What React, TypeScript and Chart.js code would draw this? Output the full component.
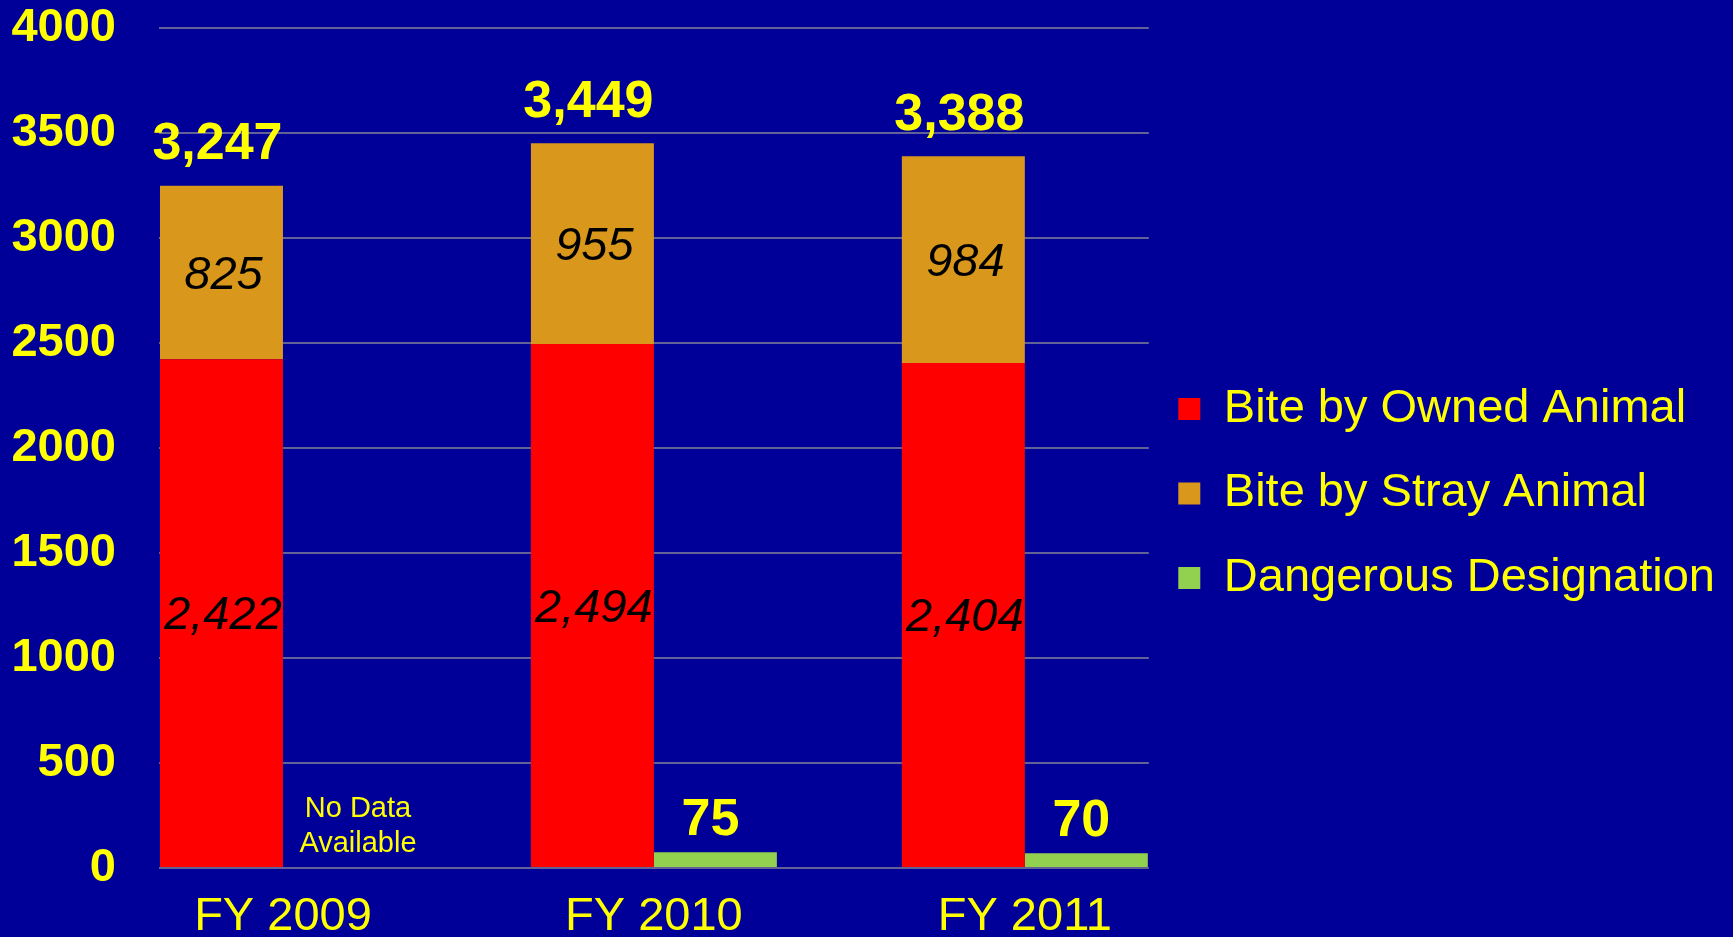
import React, { useEffect, useRef } from 'react';
import { Chart, registerables } from 'chart.js';

Chart.register(...registerables);

const categories = ['FY 2009', 'FY 2010', 'FY 2011'];
const ownedBites = [2422, 2494, 2404];
const strayBites = [825, 955, 984];
const dangerousDesignations: (number | null)[] = [null, 75, 70];
const seriesNames = ['Bite by Owned Animal', 'Bite by Stray Animal', 'Dangerous Designation'];
const noDataLines = ['No Data', 'Available'];
const yAxisMin = 0;
const yAxisMax = 4000;
const yAxisStep = 500;

const FONT = '"Liberation Sans", Arial, Helvetica, sans-serif';
const YELLOW = '#FFFF00';
const BG = '#000099';

const fmt = (v: number) => v.toLocaleString('en-US');

const valueLabels = {
  id: 'valueLabels',
  afterLayout(chart: any) {
    // nudge legend content slightly left (legend sits right of the plot)
    if (chart.legend) {
      chart.legend.left -= 8;
      chart.legend.right -= 8;
    }
  },
  afterDatasetsDraw(chart: any) {
    const ctx = chart.ctx;
    const m0 = chart.getDatasetMeta(0);
    const m1 = chart.getDatasetMeta(1);
    const m2 = chart.getDatasetMeta(2);
    ctx.save();
    ctx.textAlign = 'center';
    ctx.textBaseline = 'middle';
    categories.forEach((_, i) => {
      const a = m0.data[i];
      const b = m1.data[i];
      // inside labels
      ctx.font = `italic 47px ${FONT}`;
      ctx.fillStyle = '#000000';
      ctx.fillText(fmt(ownedBites[i]), a.x + 1.5, (a.y + a.base) / 2 + 3);
      ctx.fillText(fmt(strayBites[i]), b.x + 2, (b.y + b.base) / 2 + 3);
      // totals
      ctx.font = `bold 52px ${FONT}`;
      ctx.fillStyle = YELLOW;
      ctx.fillText(fmt(ownedBites[i] + strayBites[i]), b.x - 4, b.y - 41);
      const d = dangerousDesignations[i];
      if (d != null) {
        const c = m2.data[i];
        ctx.fillText(String(d), c.x - 5, c.y - 32);
      } else {
        ctx.font = `29px ${FONT}`;
        const cx = a.x + a.width + 13.5;
        ctx.fillText(noDataLines[0], cx, 809);
        ctx.fillText(noDataLines[1], cx, 844);
      }
    });
    ctx.restore();
  },
};

export default function App() {
  const canvasRef = useRef<HTMLCanvasElement | null>(null);

  useEffect(() => {
    if (!canvasRef.current) return;
    const toPoints = (arr: (number | null)[]) => arr.map((y, i) => ({ x: i, y }));
    const chart = new Chart(canvasRef.current, {
      type: 'bar',
      data: {
        datasets: [
          {
            label: seriesNames[0],
            data: toPoints(ownedBites),
            backgroundColor: '#FF0000',
            borderWidth: 0,
            stack: 'bites',
          },
          {
            label: seriesNames[1],
            data: toPoints(strayBites),
            backgroundColor: '#D9981B',
            borderWidth: 0,
            stack: 'bites',
          },
          {
            label: seriesNames[2],
            data: toPoints(dangerousDesignations),
            backgroundColor: '#92D050',
            borderWidth: 0,
            stack: 'danger',
          },
        ] as any,
      },
      options: {
        animation: false,
        responsive: true,
        maintainAspectRatio: false,
        categoryPercentage: 0.6631,
        barPercentage: 1,
        layout: { padding: { left: 11.5, right: 0, top: 0, bottom: 0 } },
        plugins: {
          legend: {
            position: 'right',
            maxWidth: 800,
            labels: {
              color: YELLOW,
              font: { family: FONT, size: 47 },
              boxWidth: 22,
              boxHeight: 22,
              padding: 37.5,
            },
            title: {
              display: true,
              text: ' ',
              padding: 0,
              font: { size: 10, lineHeight: '50px' },
            },
          },
          tooltip: { enabled: false },
        },
        scales: {
          x: {
            type: 'linear',
            stacked: true,
            offset: false,
            min: -0.3342,
            max: 2.3342,
            grid: { display: false, drawTicks: false },
            border: { display: false },
            afterBuildTicks: (scale: any) => {
              scale.ticks = categories.map((_, i) => ({ value: i }));
            },
            afterFit: (scale: any) => {
              scale.height = 69;
            },
            ticks: {
              color: YELLOW,
              padding: 26,
              font: { family: FONT, size: 47, lineHeight: 1 },
              maxRotation: 0,
              autoSkip: false,
              callback: (v: any) => categories[v] ?? '',
            },
          },
          y: {
            stacked: true,
            min: yAxisMin,
            max: yAxisMax,
            grid: { color: 'rgba(140,140,150,0.7)', lineWidth: 2, drawTicks: false },
            border: { display: false },
            afterFit: (scale: any) => {
              scale.width = 147.5;
              scale.paddingTop = 27.6;
              scale.paddingBottom = 27.6;
            },
            ticks: {
              stepSize: yAxisStep,
              color: YELLOW,
              padding: 43,
              font: { family: FONT, size: 47, weight: 'bold' },
              callback: (v: any) => String(v),
            },
          },
        },
      } as any,
      plugins: [valueLabels],
    });
    return () => chart.destroy();
  }, []);

  return (
    <div
      style={{
        position: 'fixed',
        left: 0,
        top: 0,
        width: '1733px',
        height: '937px',
        background: BG,
      }}
    >
      <canvas ref={canvasRef} style={{ display: 'block' }} />
    </div>
  );
}
